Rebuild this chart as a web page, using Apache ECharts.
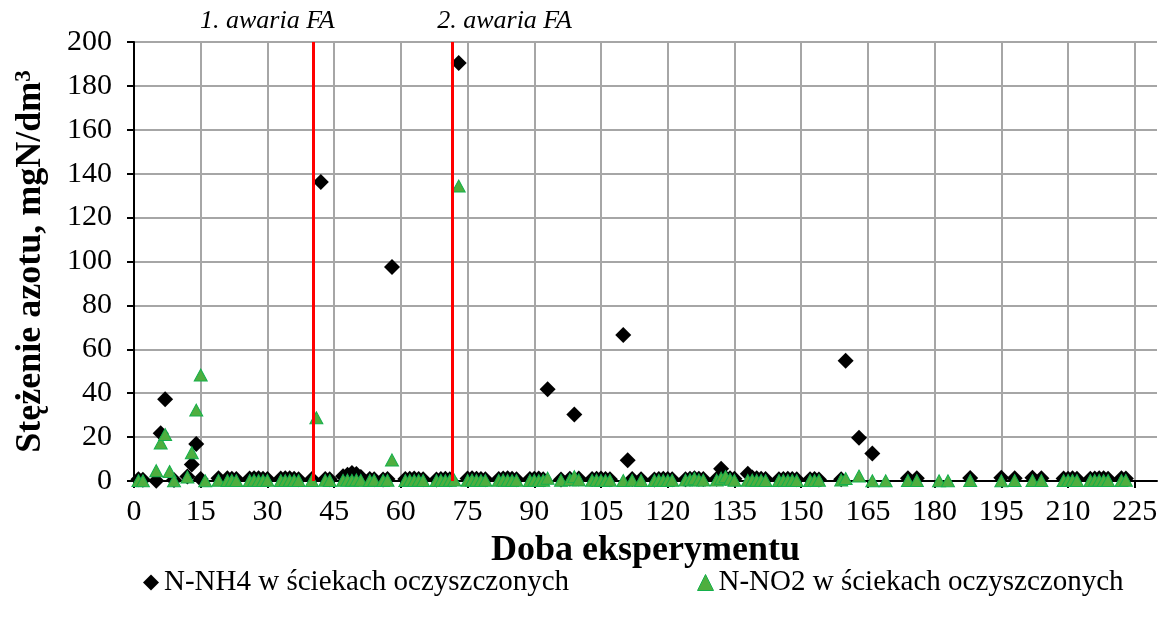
<!DOCTYPE html>
<html>
<head>
<meta charset="utf-8">
<script src="https://cdn.jsdelivr.net/npm/echarts@6/dist/echarts.min.js"></script>
<style>
  html, body { margin: 0; padding: 0; background: #ffffff; }
  #chart { width: 1165px; height: 624px; }
</style>
</head>
<body>
<div id="chart"></div>
<script>
// Ammonium nitrogen in treated wastewater: [day, mgN/dm3]
const nh4Points = [
  [1,0.8],[2,0.6],[5,0.1],[6,21.8],[7,37.2],[9,0.5],[12,2.0],[13,7.5],[14,16.8],[15,0.9],
  [19,1.3],[21,1.2],[22,1.0],[23,0.9],[26,1.1],[27,1.3],[28,1.2],[29,1.0],[30,0.9],
  [33,1.1],[34,1.3],[35,1.2],[36,1.0],[37,0.8],[40,0.9],[42,136.2],[43,0.9],[44,0.8],
  [47,2.2],[48,2.8],[49,3.6],[50,3.2],[51,1.8],[53,0.9],[54,0.8],[56,0.7],[57,0.9],[58,97.5],
  [61,0.9],[62,1.0],[63,1.1],[64,0.9],[65,0.8],[68,0.7],[69,0.9],[70,1.0],[71,0.8],[73,190.4],
  [75,1.1],[76,1.2],[77,1.0],[78,0.9],[79,0.8],[82,0.9],[83,1.1],[84,1.2],[85,1.0],[86,0.8],
  [89,0.9],[90,1.0],[91,1.1],[92,0.8],[93,41.8],[96,0.7],[98,1.0],[99,30.3],[100,1.1],
  [103,0.9],[104,1.0],[105,1.1],[106,0.9],[107,0.8],[110,66.5],[111,9.5],[112,0.9],[114,0.8],
  [117,0.7],[118,0.9],[119,1.0],[120,0.9],[121,0.8],[124,0.8],[125,1.0],[126,1.2],[127,1.0],[128,0.9],
  [131,1.0],[132,5.6],[133,1.5],[134,1.3],[135,1.0],[138,3.3],[139,1.6],[140,1.2],[141,1.0],[142,0.9],
  [145,0.8],[146,0.9],[147,1.0],[148,0.9],[149,0.8],[152,0.8],[153,0.9],[154,0.7],
  [159,0.8],[160,54.8],[163,19.7],[166,12.5],[174,1.2],[176,1.3],[188,1.4],[195,1.5],[198,1.3],
  [202,1.5],[204,1.3],[209,1.1],[210,1.0],[211,1.2],[212,1.0],[215,1.0],[216,1.1],[217,1.3],
  [218,1.2],[219,1.0],[222,1.2],[223,1.1]
];

// Nitrite nitrogen in treated wastewater: [day, mgN/dm3]
const no2Points = [
  [1,0.2],[2,0.1],[5,4.7],[6,17.3],[7,21.2],[8,4.3],[9,0.1],[12,1.8],[13,12.9],[14,32.3],[15,48.3],[16,0.1],
  [19,0.3],[21,0.2],[22,0.3],[23,0.2],[26,0.2],[27,0.3],[28,0.2],[29,0.2],[30,0.3],
  [33,0.2],[34,0.2],[35,0.3],[36,0.2],[37,0.2],[40,0.2],[41,28.8],[43,0.3],[44,0.2],
  [47,0.3],[48,0.4],[49,0.3],[50,0.5],[51,0.3],[53,0.2],[54,0.3],[56,0.2],[57,0.3],[58,9.6],
  [61,0.2],[62,0.3],[63,0.2],[64,0.3],[65,0.2],[68,0.2],[69,0.3],[70,0.2],[71,0.3],[72,0.4],[73,134.4],
  [75,0.3],[76,0.4],[77,0.3],[78,0.2],[79,0.3],[82,0.3],[83,0.4],[84,0.3],[85,0.2],[86,0.3],
  [89,0.2],[90,0.3],[91,0.2],[92,0.3],[93,1.3],[96,0.3],[98,0.6],[99,2.0],[100,0.5],
  [103,0.3],[104,0.4],[105,0.3],[106,0.2],[107,0.3],[110,0.2],[112,0.3],[114,0.2],
  [117,0.2],[118,0.3],[119,0.3],[120,0.2],[121,0.3],[124,0.4],[125,0.6],[126,1.2],[127,0.5],[128,0.4],
  [131,0.4],[132,1.3],[133,2.0],[134,0.8],[135,0.3],[138,0.3],[139,0.4],[140,0.3],[141,0.3],[142,0.2],
  [145,0.2],[146,0.3],[147,0.2],[148,0.3],[149,0.2],[152,0.2],[153,0.2],[154,0.3],
  [159,0.5],[160,1.1],[163,2.3],[166,0.1],[169,0.1],[174,0.2],[176,0.2],[181,0.1],[183,0.1],
  [188,0.2],[195,0.1],[198,0.2],[202,0.2],[204,0.2],[209,0.2],[210,0.2],[211,0.3],[212,0.2],
  [215,0.2],[216,0.3],[217,0.3],[218,0.2],[219,0.2],[222,0.2],[223,0.3]
];

// Days of the two free-ammonia failures and their captions
const failureDays = [40.3, 71.6];
const failureLabels = ['1. awaria FA', '2. awaria FA'];

const seriesNames = ['N-NH4 w ściekach oczyszczonych', 'N-NO2 w ściekach oczyszczonych'];
const xTicks = { min: 0, max: 230, interval: 15 };
const yTicks = { min: 0, max: 200, interval: 20 };

const FONT = '"Liberation Serif", "Times New Roman", serif';
const GREEN_FILL = '#4fae3f';
const GREEN_EDGE = '#14b04c';
const chart = echarts.init(document.getElementById('chart'), null, { renderer: 'canvas' });

const option = {
  animation: false,
  backgroundColor: '#ffffff',
  textStyle: { fontFamily: FONT, color: '#000' },
  grid: { left: 134, right: 8, top: 42, bottom: 143, containLabel: false },
  xAxis: {
    type: 'value',
    min: xTicks.min, max: xTicks.max, interval: xTicks.interval,
    name: 'Doba eksperymentu',
    nameLocation: 'middle',
    nameGap: 52,
    nameTextStyle: { fontFamily: FONT, fontWeight: 'bold', fontSize: 36, color: '#000' },
    axisLine: { show: true, onZero: false, lineStyle: { color: '#000', width: 2 } },
    axisTick: { show: true, length: 7, lineStyle: { color: '#000', width: 2 } },
    axisLabel: { fontFamily: FONT, fontSize: 30, color: '#000', margin: 16, showMaxLabel: false },
    splitLine: { show: true, showMaxLine: false, lineStyle: { color: '#a6a6a6', width: 2 } }
  },
  yAxis: {
    type: 'value',
    min: yTicks.min, max: yTicks.max, interval: yTicks.interval,
    name: 'Stężenie azotu, mgN/dm{sup|3}',
    nameLocation: 'middle',
    nameGap: 85,
    nameRotate: 90,
    nameTextStyle: {
      fontFamily: FONT, fontWeight: 'bold', fontSize: 36, color: '#000',
      rich: { sup: { fontFamily: FONT, fontWeight: 'bold', fontSize: 23, color: '#000', verticalAlign: 'top', padding: [0, 0, 12, 0] } }
    },
    axisLine: { show: true, lineStyle: { color: '#000', width: 2 } },
    axisTick: { show: true, length: 7, lineStyle: { color: '#000', width: 2 } },
    axisLabel: { fontFamily: FONT, fontSize: 30, color: '#000', margin: 22 },
    splitLine: { show: true, lineStyle: { color: '#a6a6a6', width: 2 } }
  },
  legend: {
    bottom: 22,
    left: 138,
    itemGap: 128,
    itemWidth: 16,
    itemHeight: 16,
    textStyle: { fontFamily: FONT, fontSize: 29, color: '#000' },
    data: [
      { name: seriesNames[0], icon: 'diamond', itemStyle: { color: '#000', opacity: 1 } },
      { name: seriesNames[1], icon: 'triangle', itemStyle: { color: GREEN_FILL, borderColor: GREEN_EDGE, borderWidth: 1, opacity: 1 } }
    ]
  },
  series: [
    {
      name: seriesNames[0],
      type: 'scatter',
      symbol: 'diamond',
      symbolSize: 16,
      itemStyle: { color: '#000', opacity: 1 },
      data: nh4Points,
      z: 3,
      markLine: {
        silent: true,
        symbol: ['none', 'none'],
        label: { show: false },
        lineStyle: { color: '#ff0000', width: 3, type: 'solid' },
        data: failureDays.map(d => [{ coord: [d, yTicks.min] }, { coord: [d, yTicks.max] }])
      }
    },
    {
      name: seriesNames[1],
      type: 'scatter',
      symbol: 'triangle',
      symbolSize: [13, 12],
      itemStyle: { color: GREEN_FILL, borderColor: GREEN_EDGE, borderWidth: 1, opacity: 1 },
      data: no2Points,
      z: 4
    }
  ]
};

chart.setOption(option);

// Failure captions sit above the plot, shifted sideways from their red lines
const captionShift = [-46, 52];
const captions = failureDays.map((d, i) => {
  const p = chart.convertToPixel({ gridIndex: 0 }, [d, yTicks.max]);
  return {
    type: 'text',
    x: p[0] + captionShift[i],
    y: p[1] - 21,
    style: {
      text: failureLabels[i],
      fontFamily: FONT,
      fontStyle: 'italic',
      fontSize: 26,
      fill: '#000',
      align: 'center',
      verticalAlign: 'middle'
    }
  };
});
chart.setOption({ graphic: captions });
</script>
</body>
</html>
